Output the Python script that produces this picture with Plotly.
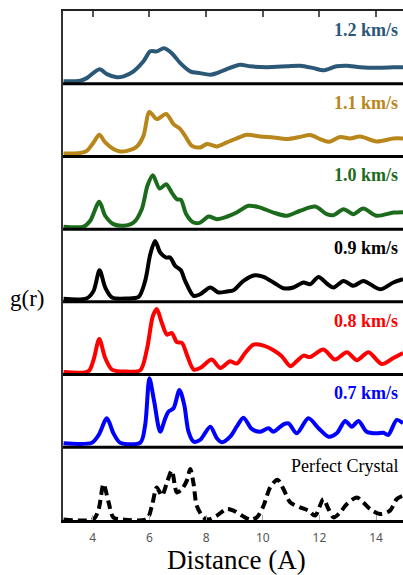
import plotly.graph_objects as go
from plotly.subplots import make_subplots

# ---- data ----
labels = ["1.2 km/s", "1.1 km/s", "1.0 km/s", "0.9 km/s", "0.8 km/s", "0.7 km/s", "Perfect Crystal"]
colors = ["#2c5878", "#b8861a", "#1c6b1c", "#000000", "#ff0000", "#0000ff", "#000000"]

x_12 = [2.97, 3.56, 3.79, 4.24, 4.50, 4.85, 5.09, 5.44, 5.79, 6.03, 6.26, 6.52, 6.79, 7.09, 7.44, 7.79, 8.15, 8.38, 8.73, 9.20, 9.56, 10.14, 10.85, 11.32, 11.79, 12.14, 12.61, 12.97, 13.44, 14.02, 14.61, 14.95]
g_12 = [0.12, 0.15, 0.28, 0.73, 0.48, 0.32, 0.37, 0.62, 1.12, 1.62, 1.62, 1.78, 1.53, 1.03, 0.62, 0.53, 0.45, 0.53, 0.73, 0.95, 0.87, 0.83, 0.87, 0.90, 0.78, 0.67, 0.87, 0.90, 0.83, 0.80, 0.82, 0.83]

x_11 = [2.97, 3.56, 3.79, 4.03, 4.23, 4.44, 4.73, 4.97, 5.21, 5.56, 5.79, 6.00, 6.26, 6.59, 6.85, 7.09, 7.26, 7.50, 7.79, 8.03, 8.38, 8.73, 9.08, 9.44, 9.91, 10.38, 10.85, 11.32, 11.67, 12.02, 12.32, 12.73, 13.08, 13.44, 14.02, 14.61, 14.95]
g_11 = [0.15, 0.17, 0.28, 0.70, 1.08, 0.70, 0.37, 0.25, 0.28, 0.50, 1.03, 2.23, 1.87, 2.12, 1.62, 1.37, 1.03, 0.53, 0.45, 0.62, 0.50, 0.70, 0.90, 1.08, 1.00, 0.95, 0.87, 0.98, 1.07, 0.87, 0.73, 0.97, 0.90, 1.00, 0.75, 0.90, 0.90]

x_10 = [2.97, 3.68, 3.91, 4.23, 4.44, 4.73, 5.09, 5.44, 5.73, 5.93, 6.12, 6.36, 6.59, 6.79, 6.97, 7.11, 7.30, 7.56, 7.79, 8.09, 8.38, 8.73, 9.08, 9.50, 9.91, 10.38, 10.85, 11.32, 11.85, 12.26, 12.50, 12.85, 13.20, 13.55, 14.02, 14.61, 14.95]
g_10 = [0.12, 0.13, 0.42, 1.37, 0.67, 0.25, 0.17, 0.33, 1.00, 2.17, 2.70, 2.03, 2.25, 1.83, 1.50, 1.47, 0.75, 0.33, 0.33, 0.63, 0.50, 0.62, 0.83, 1.17, 1.08, 0.83, 0.67, 0.92, 1.13, 0.75, 0.70, 1.00, 0.75, 1.03, 0.67, 0.83, 0.85]

x_09 = [2.97, 3.79, 4.03, 4.24, 4.44, 4.68, 5.21, 5.62, 5.85, 6.03, 6.20, 6.38, 6.59, 6.73, 6.91, 7.11, 7.26, 7.56, 7.79, 8.15, 8.44, 8.73, 8.97, 9.32, 9.73, 10.03, 10.38, 10.73, 11.08, 11.44, 11.67, 11.97, 12.26, 12.50, 12.85, 13.20, 13.55, 14.14, 14.61, 14.95]
g_09 = [0.15, 0.18, 0.55, 1.58, 0.72, 0.22, 0.17, 0.25, 1.05, 2.38, 3.05, 2.47, 2.22, 2.22, 1.80, 1.58, 1.05, 0.30, 0.38, 0.72, 0.47, 0.52, 0.58, 1.05, 1.33, 1.25, 0.97, 0.68, 0.72, 0.97, 0.88, 1.25, 0.92, 0.72, 1.05, 0.80, 1.05, 0.63, 0.97, 1.13]

x_08 = [2.97, 3.85, 4.03, 4.23, 4.44, 4.68, 5.21, 5.68, 5.91, 6.12, 6.26, 6.44, 6.62, 6.79, 6.97, 7.15, 7.32, 7.56, 7.79, 8.20, 8.50, 8.85, 9.08, 9.38, 9.67, 10.03, 10.38, 10.67, 10.97, 11.20, 11.44, 11.67, 12.14, 12.55, 12.97, 13.32, 13.73, 14.20, 14.61, 14.95]
g_08 = [0.13, 0.17, 0.75, 1.78, 0.83, 0.25, 0.15, 0.22, 1.25, 2.92, 3.28, 2.58, 2.00, 2.08, 1.62, 1.58, 1.00, 0.25, 0.33, 0.75, 0.33, 0.67, 0.55, 1.08, 1.50, 1.45, 1.22, 0.92, 0.42, 0.67, 0.95, 0.88, 1.25, 0.75, 1.12, 0.72, 1.12, 0.53, 0.83, 1.08]

x_07 = [2.97, 3.97, 4.21, 4.50, 4.73, 4.97, 5.68, 5.85, 6.00, 6.17, 6.38, 6.56, 6.67, 6.85, 7.06, 7.23, 7.38, 7.56, 7.79, 8.15, 8.38, 8.56, 8.85, 9.08, 9.32, 9.61, 9.91, 10.20, 10.38, 10.73, 10.91, 11.20, 11.61, 11.97, 12.32, 12.61, 12.91, 13.14, 13.38, 13.67, 14.02, 14.26, 14.43, 14.73, 14.95]
g_07 = [0.20, 0.23, 0.62, 1.45, 0.70, 0.23, 0.23, 1.12, 3.45, 2.28, 0.78, 1.45, 1.78, 1.95, 2.87, 2.12, 0.78, 0.28, 0.37, 1.03, 0.45, 0.25, 0.53, 1.03, 1.48, 0.92, 0.78, 0.95, 0.78, 1.15, 1.20, 0.70, 1.45, 0.95, 0.53, 0.70, 1.32, 1.03, 1.32, 0.78, 0.70, 0.73, 0.62, 1.37, 1.20]

x_pc = [2.97, 4.03, 4.21, 4.38, 4.56, 4.73, 5.09, 5.91, 6.09, 6.26, 6.44, 6.62, 6.79, 6.97, 7.15, 7.32, 7.44, 7.56, 7.67, 7.91, 8.09, 8.38, 8.73, 8.97, 9.26, 9.56, 9.79, 10.03, 10.26, 10.52, 10.73, 10.97, 11.32, 11.61, 11.85, 12.14, 12.32, 12.50, 12.73, 12.97, 13.32, 13.55, 13.79, 14.14, 14.49, 14.73, 14.95]
g_pc = [0.03, 0.05, 0.55, 1.80, 0.88, 0.13, 0.02, 0.05, 0.72, 1.63, 1.22, 1.88, 2.47, 1.38, 1.55, 1.97, 2.55, 1.80, 0.72, 0.13, 0.02, 0.22, 0.55, 0.47, 0.22, 0.02, 0.13, 0.72, 1.63, 2.02, 1.55, 0.88, 0.63, 0.47, 0.22, 1.05, 0.55, 0.13, 0.38, 0.80, 1.13, 0.88, 0.55, 0.30, 0.47, 1.05, 1.22]

xs = [x_12, x_11, x_10, x_09, x_08, x_07, x_pc]
gs = [g_12, g_11, g_10, g_09, g_08, g_07, g_pc]

x_ticks = [4, 6, 8, 10, 12, 14]
x_range = [2.95, 14.95]
y_range = [0, 3.64]

n = len(labels)
fig = make_subplots(rows=n, cols=1, shared_xaxes=True, vertical_spacing=0)

serif = "Liberation Serif, Times New Roman, serif"

for i in range(n):
    fig.add_trace(go.Scatter(
        x=xs[i], y=gs[i], mode="lines",
        line=dict(color=colors[i], width=4, shape="spline", smoothing=0.8,
                  dash="9px,5px" if i == n - 1 else "solid"),
        showlegend=False, hoverinfo="skip"),
        row=i + 1, col=1)
    bold = i < n - 1
    fig.add_annotation(
        text=("<b>%s</b>" % labels[i]) if bold else labels[i],
        xref="x%s domain" % ("" if i == 0 else i + 1),
        yref="y%s domain" % ("" if i == 0 else i + 1),
        x=0.99, y=0.74, xanchor="right", yanchor="middle",
        showarrow=False,
        font=dict(family=serif, size=18, color=colors[i]))

for i in range(1, n + 1):
    fig.update_yaxes(range=y_range, showticklabels=False, ticks="", showgrid=False,
                     zeroline=False, showline=True, linewidth=1.5, linecolor="#333",
                     row=i, col=1)
    fig.update_xaxes(range=x_range, showgrid=False, zeroline=False, showline=False,
                     ticks="", tickvals=x_ticks, row=i, col=1)

# top border ticks
fig.update_xaxes(side="top", ticks="inside", ticklen=6, tickwidth=1.5, tickcolor="#555",
                 showline=True, linewidth=1.5, linecolor="#222", showticklabels=False,
                 row=1, col=1)
# bottom axis
fig.update_xaxes(ticks="inside", ticklen=5, tickwidth=1, tickcolor="#aaa",
                 showline=True, linewidth=3, linecolor="#000", showticklabels=True,
                 ticklabelstandoff=5,
                 tickfont=dict(family="Noto Sans, sans-serif", size=12, color="#555"),
                 row=n, col=1)

# thick separators between panels
for i in range(2, n + 1):
    dom = fig.layout["yaxis%d" % i].domain
    fig.add_shape(type="line", xref="paper", yref="paper", x0=0, x1=1,
                  y0=dom[1], y1=dom[1], line=dict(color="#000", width=3))

fig.add_annotation(text="g(r)", xref="paper", yref="paper", x=-0.106, y=0.436,
                   xanchor="center", yanchor="middle", showarrow=False,
                   font=dict(family=serif, size=23, color="#000"))
fig.add_annotation(text="Distance (A)", xref="paper", yref="paper", x=0.51, y=-0.078,
                   xanchor="center", yanchor="middle", showarrow=False,
                   font=dict(family=serif, size=27, color="#000"))

fig.update_layout(width=403, height=575, margin=dict(l=63, r=0, t=11, b=55),
                  plot_bgcolor="white", paper_bgcolor="white")

fig.write_html("out.html")
